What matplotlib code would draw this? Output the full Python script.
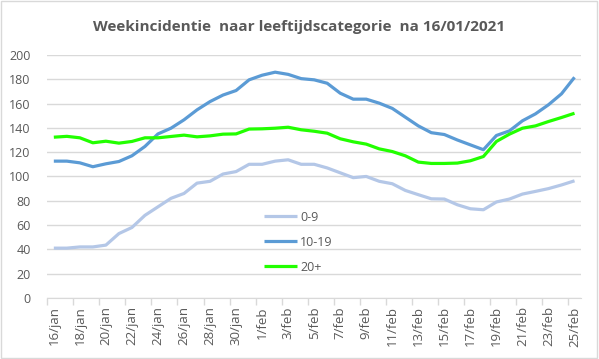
import matplotlib
matplotlib.use("Agg")
import matplotlib.pyplot as plt
from matplotlib.patches import Rectangle
import datetime as dt

# one value per day from 16/jan to 25/feb
start = dt.date(2021, 1, 16)
days = [start + dt.timedelta(days=i) for i in range(41)]
maanden = {1: "jan", 2: "feb"}
labels = ["%d/%s" % (d.day, maanden[d.month]) for d in days]

leeftijd_0_9 = [41, 41, 42, 42, 43.5, 53, 58, 68, 75, 82, 86, 94.5, 96, 102, 104, 110, 110,
                112.6, 113.7, 110, 110, 107, 103, 99, 100, 96, 94, 88.5, 85, 81.6, 81.4,
                76.7, 73.4, 72.6, 79, 81.4, 85.5, 87.7, 90, 93, 96.4]
leeftijd_10_19 = [112.6, 112.6, 111.2, 108, 110.4, 112.3, 117, 124.7, 135, 139.7, 146.6,
                  154.8, 161.6, 167, 170.7, 179.5, 183.3, 185.8, 184, 180.5, 179.5, 176.7,
                  168.5, 163.6, 163.6, 160.3, 156, 148.8, 141.6, 136, 134.5, 130, 126, 122,
                  133.7, 137.5, 145.8, 151.5, 159, 168, 181.6]
leeftijd_20 = [132.3, 133, 131.8, 127.7, 129, 127.4, 128.8, 131.8, 131.8, 132.9, 134, 132.6,
               133.4, 134.8, 135, 139, 139.2, 139.7, 140.5, 138.4, 137.2, 135.6, 131, 128.5,
               126.6, 122.7, 120.5, 117, 111.8, 110.7, 110.7, 111, 112.9, 116.4, 128.8,
               134.8, 139.7, 141.6, 145.2, 148.5, 152]

series = [("0-9", leeftijd_0_9, "#b4c7e7"),
          ("10-19", leeftijd_10_19, "#5b9bd5"),
          ("20+", leeftijd_20, "#22ff00")]

plt.rcParams['font.family'] = ['Open Sans', 'DejaVu Sans']
tekst = '#595959'
raster = '#d9d9d9'

fig = plt.figure(figsize=(5.99, 3.59), dpi=100)
fig.patches.append(Rectangle((0.002, 0.003), 0.995, 0.994, transform=fig.transFigure,
                             fill=False, edgecolor=raster, linewidth=1))
ax = fig.add_axes([0.079, 0.170, 0.891, 0.677])

x = list(range(len(days)))
for naam, waarden, kleur in series:
    ax.plot(x, waarden, color=kleur, linewidth=2.3, label=naam, solid_capstyle='butt')

ax.set_xlim(-0.5, len(days) - 0.5)
ax.set_ylim(0, 200)
ax.set_yticks(range(0, 201, 20))
ax.yaxis.grid(True, color=raster, linewidth=1)
ax.set_axisbelow(True)
ax.tick_params(axis='y', length=0, pad=12, labelsize=9, labelcolor=tekst)

ax.set_xticks(x[::2])
ax.set_xticklabels(labels[::2], rotation=90, fontsize=9.5, color=tekst)
ax.set_xticks([i - 0.5 for i in range(0, len(days) + 1, 2)], minor=True)
ax.tick_params(axis='x', which='major', length=0, pad=6)
ax.tick_params(axis='x', which='minor', length=5, color=raster, width=1)

for s in ['top', 'right', 'left']:
    ax.spines[s].set_visible(False)
ax.spines['bottom'].set_color(raster)

ax.legend(loc='upper left', bbox_to_anchor=(0.385, 0.405), frameon=False, fontsize=9,
          labelcolor=tekst, handlelength=2.6, labelspacing=0.95, handletextpad=0.3)

fig.text(0.5, 0.925, "Weekincidentie  naar leeftijdscategorie  na 16/01/2021",
         ha='center', va='center', fontsize=11, fontweight='bold', color=tekst)

fig.savefig("out.png", dpi=100)
